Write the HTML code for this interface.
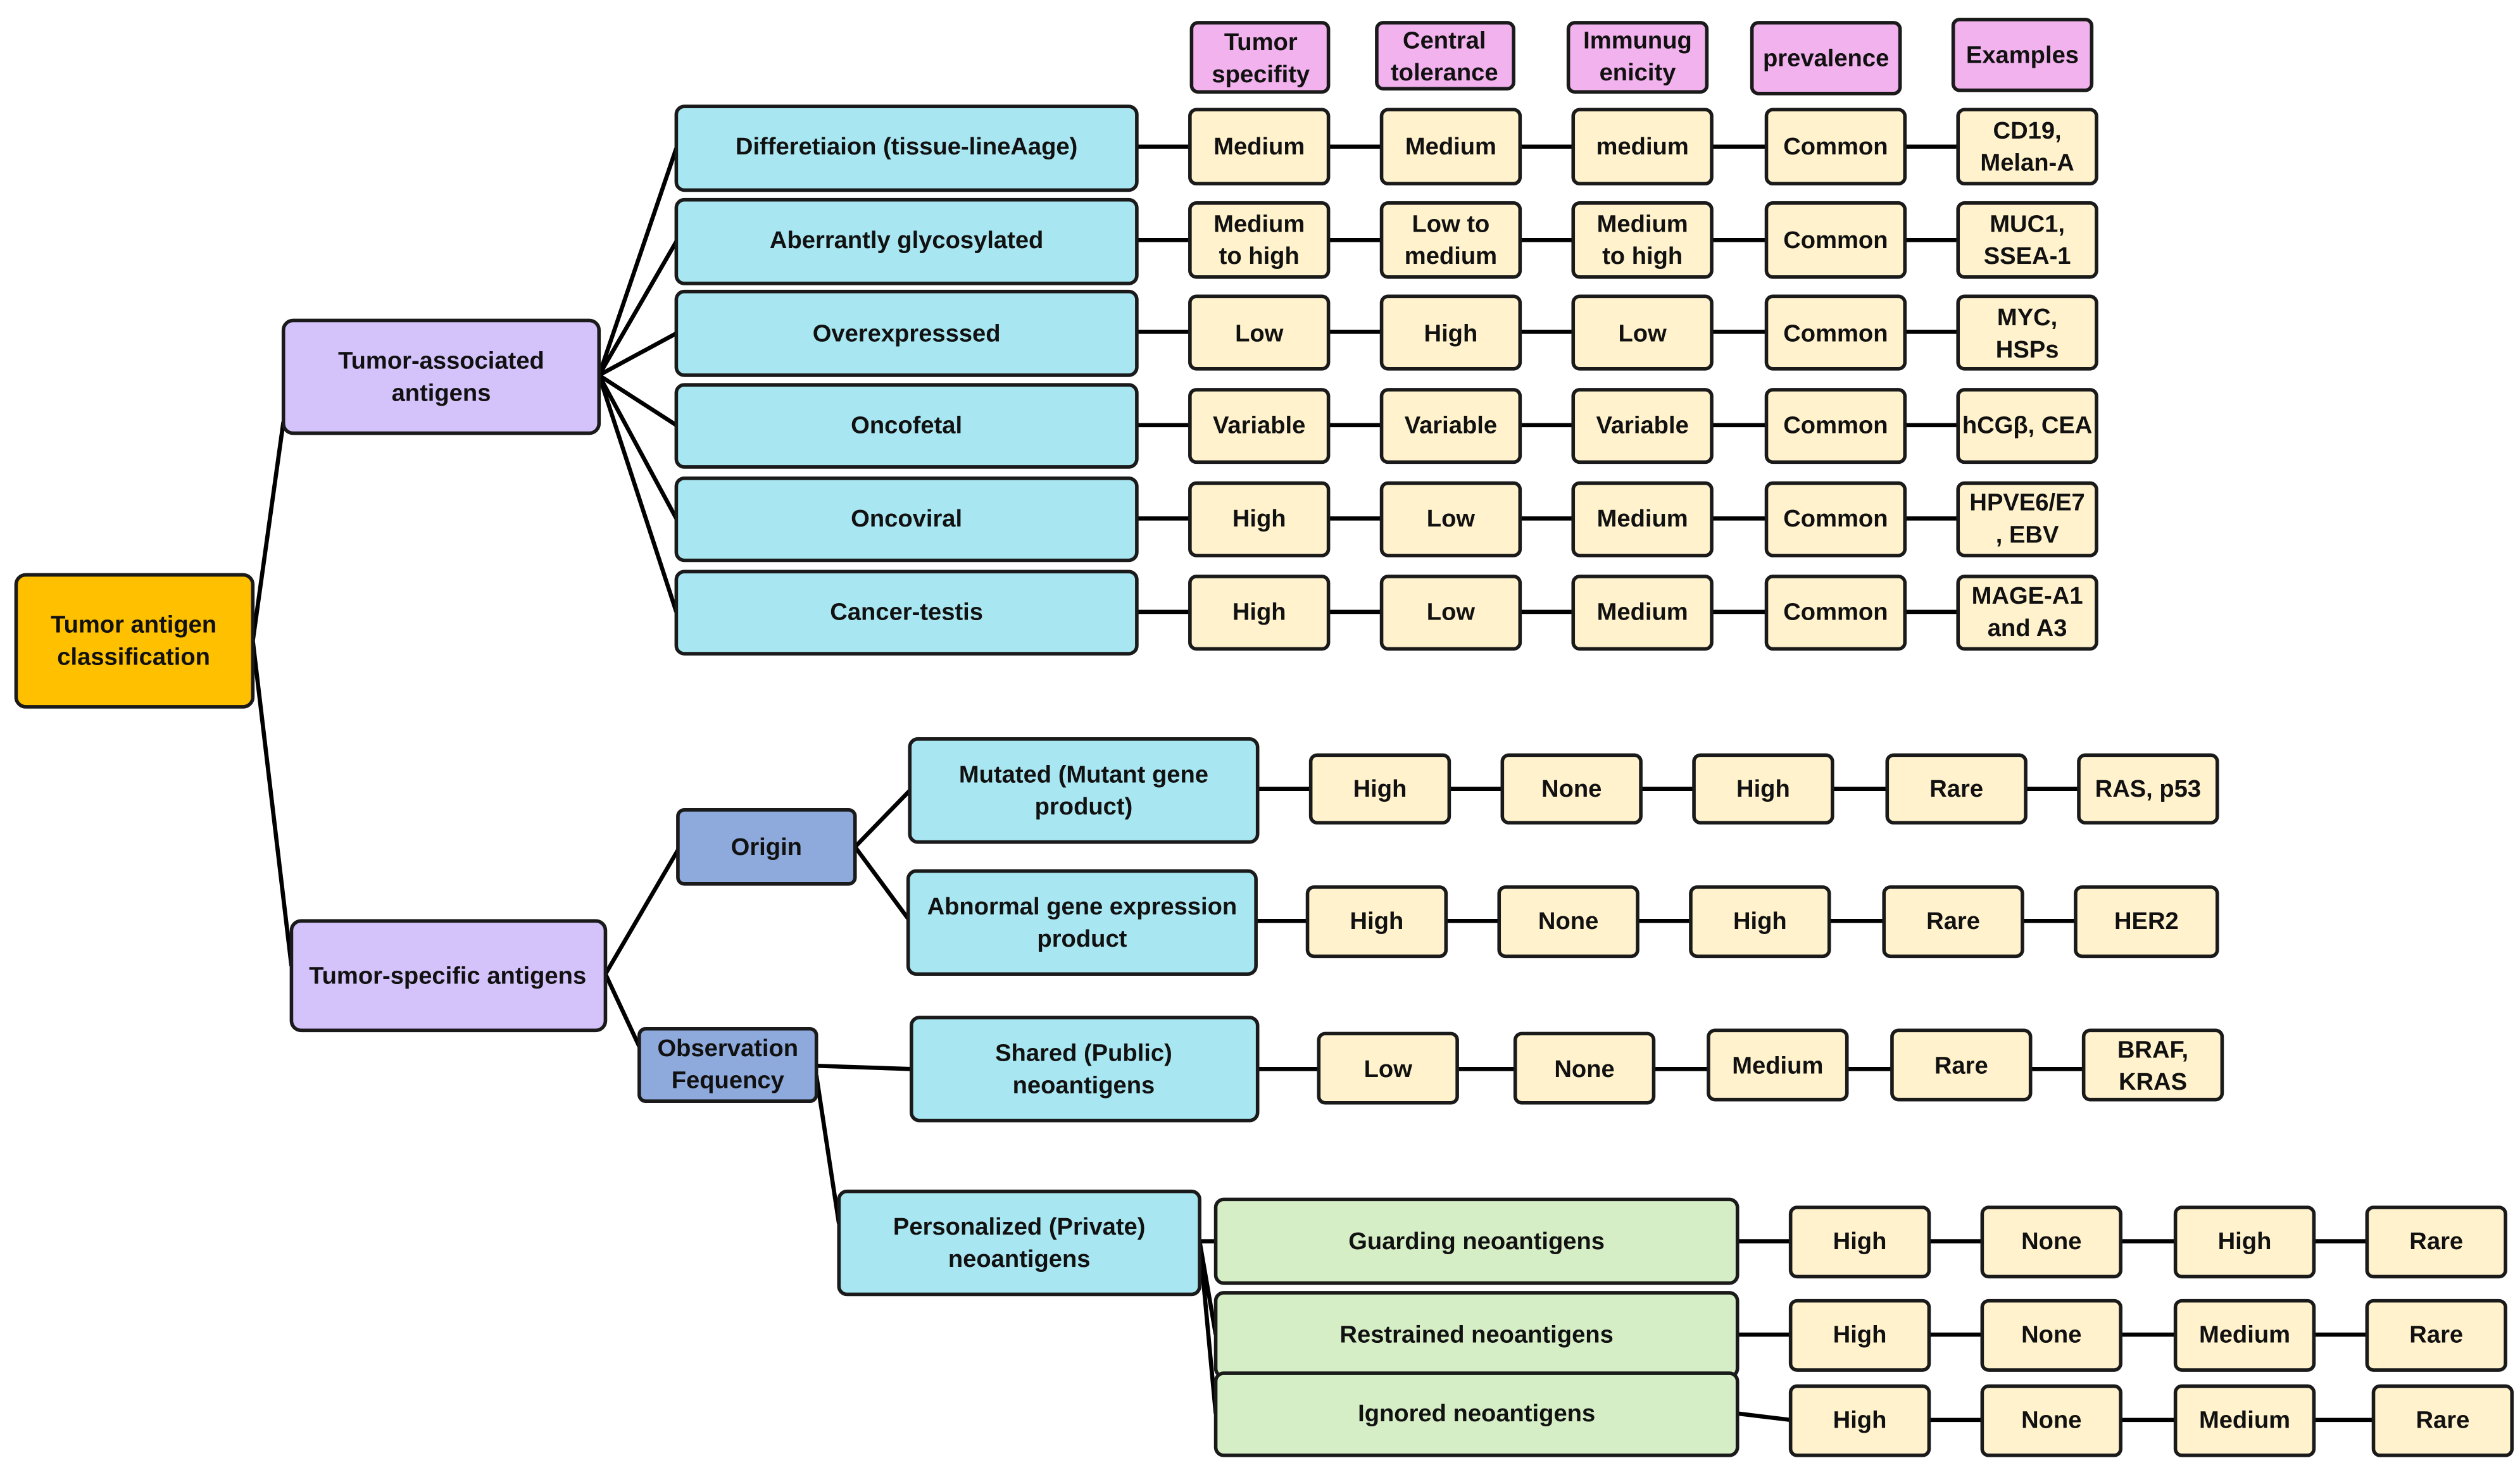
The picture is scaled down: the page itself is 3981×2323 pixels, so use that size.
<!DOCTYPE html>
<html><head><meta charset="utf-8"><style>
html,body{margin:0;padding:0;background:#fff}
svg{display:block}
text{font-family:"Liberation Sans",sans-serif;font-weight:bold;font-size:15px;fill:#111;text-anchor:middle;dominant-baseline:central}
.b{stroke:#1a1a1a;stroke-width:2.2}
.l{stroke:#000;stroke-width:2.6;fill:none}
.c{fill:#A8E6F1}.p{fill:#D4C2FA}.k{fill:#F2B2EE}.y{fill:#FFF2CC}.u{fill:#8EA9DB}.g{fill:#D6EEC6}.o{fill:#FFC000}
</style></head><body>
<svg width="3981" height="2323" viewBox="0 0 1565 913" xmlns="http://www.w3.org/2000/svg">
<!-- connectors -->
<g class="l">
<path d="M157 398 L176 262 M157 398 L181 600"/>
<path d="M372 233 L420 92 M372 233 L420 150 M372 233 L420 207 M372 233 L420 264 M372 233 L420 322 M372 233 L420 380"/>
<path d="M376 605 L421 528 M376 605 L397 650"/>
<path d="M531 526 L565 491 M531 526 L565 572"/>
<path d="M507 662 L566 664 M507 668 L521 760"/>
<path d="M745 771 L755 771 M745 771 L755 829 M745 771 L755 878"/>
<path d="M706 91 H1216 M706 149 H1216 M706 206 H1216 M706 264 H1216 M706 322 H1216 M706 380 H1216"/>
<path d="M781 490 H1291 M780 572 H1289 M781 664 H1294"/>
<path d="M1079 771 H1470 M1079 829 H1470 M1079 878 L1112 882 H1474"/>
</g>
<!-- left nodes -->
<rect class="b o" x="10" y="357" width="147" height="82" rx="6"/>
<text x="83" y="388">Tumor antigen</text><text x="83" y="408">classification</text>
<rect class="b p" x="176" y="199" width="196" height="70" rx="6"/>
<text x="274" y="224">Tumor-associated</text><text x="274" y="244">antigens</text>
<rect class="b p" x="181" y="572" width="195" height="68" rx="6"/>
<text x="278" y="606">Tumor-specific antigens</text>
<!-- headers -->
<rect class="b k" x="740" y="14" width="85" height="43" rx="4"/><text x="783" y="26">Tumor</text><text x="783" y="46">specifity</text>
<rect class="b k" x="855" y="14" width="85" height="41" rx="4"/><text x="897" y="25">Central</text><text x="897" y="45">tolerance</text>
<rect class="b k" x="974" y="14" width="86" height="43" rx="4"/><text x="1017" y="25">Immunug</text><text x="1017" y="45">enicity</text>
<rect class="b k" x="1088" y="14" width="92" height="44" rx="4"/><text x="1134" y="36">prevalence</text>
<rect class="b k" x="1213" y="12" width="86" height="44" rx="4"/><text x="1256" y="34">Examples</text>
<!-- TAA rows -->
<g>
<rect class="b c" x="420" y="66" width="286" height="52" rx="5"/><text x="563" y="91">Differetiaion (tissue-lineAage)</text>
<rect class="b c" x="420" y="124" width="286" height="52" rx="5"/><text x="563" y="149">Aberrantly glycosylated</text>
<rect class="b c" x="420" y="181" width="286" height="52" rx="5"/><text x="563" y="207">Overexpresssed</text>
<rect class="b c" x="420" y="239" width="286" height="51" rx="5"/><text x="563" y="264">Oncofetal</text>
<rect class="b c" x="420" y="297" width="286" height="51" rx="5"/><text x="563" y="322">Oncoviral</text>
<rect class="b c" x="420" y="355" width="286" height="51" rx="5"/><text x="563" y="380">Cancer-testis</text>
</g>
<g>
<rect class="b y" x="739" y="68" width="86" height="46" rx="4"/><text x="782" y="91">Medium</text>
<rect class="b y" x="858" y="68" width="86" height="46" rx="4"/><text x="901" y="91">Medium</text>
<rect class="b y" x="977" y="68" width="86" height="46" rx="4"/><text x="1020" y="91">medium</text>
<rect class="b y" x="1097" y="68" width="86" height="46" rx="4"/><text x="1140" y="91">Common</text>
<rect class="b y" x="1216" y="68" width="86" height="46" rx="4"/><text x="1259" y="81">CD19,</text><text x="1259" y="101">Melan-A</text>

<rect class="b y" x="739" y="126" width="86" height="46" rx="4"/><text x="782" y="139">Medium</text><text x="782" y="159">to high</text>
<rect class="b y" x="858" y="126" width="86" height="46" rx="4"/><text x="901" y="139">Low to</text><text x="901" y="159">medium</text>
<rect class="b y" x="977" y="126" width="86" height="46" rx="4"/><text x="1020" y="139">Medium</text><text x="1020" y="159">to high</text>
<rect class="b y" x="1097" y="126" width="86" height="46" rx="4"/><text x="1140" y="149">Common</text>
<rect class="b y" x="1216" y="126" width="86" height="46" rx="4"/><text x="1259" y="139">MUC1,</text><text x="1259" y="159">SSEA-1</text>

<rect class="b y" x="739" y="184" width="86" height="45" rx="4"/><text x="782" y="207">Low</text>
<rect class="b y" x="858" y="184" width="86" height="45" rx="4"/><text x="901" y="207">High</text>
<rect class="b y" x="977" y="184" width="86" height="45" rx="4"/><text x="1020" y="207">Low</text>
<rect class="b y" x="1097" y="184" width="86" height="45" rx="4"/><text x="1140" y="207">Common</text>
<rect class="b y" x="1216" y="184" width="86" height="45" rx="4"/><text x="1259" y="197">MYC,</text><text x="1259" y="217">HSPs</text>

<rect class="b y" x="739" y="242" width="86" height="45" rx="4"/><text x="782" y="264">Variable</text>
<rect class="b y" x="858" y="242" width="86" height="45" rx="4"/><text x="901" y="264">Variable</text>
<rect class="b y" x="977" y="242" width="86" height="45" rx="4"/><text x="1020" y="264">Variable</text>
<rect class="b y" x="1097" y="242" width="86" height="45" rx="4"/><text x="1140" y="264">Common</text>
<rect class="b y" x="1216" y="242" width="86" height="45" rx="4"/><text x="1259" y="264">hCGβ, CEA</text>

<rect class="b y" x="739" y="300" width="86" height="45" rx="4"/><text x="782" y="322">High</text>
<rect class="b y" x="858" y="300" width="86" height="45" rx="4"/><text x="901" y="322">Low</text>
<rect class="b y" x="977" y="300" width="86" height="45" rx="4"/><text x="1020" y="322">Medium</text>
<rect class="b y" x="1097" y="300" width="86" height="45" rx="4"/><text x="1140" y="322">Common</text>
<rect class="b y" x="1216" y="300" width="86" height="45" rx="4"/><text x="1259" y="312">HPVE6/E7</text><text x="1259" y="332">, EBV</text>

<rect class="b y" x="739" y="358" width="86" height="45" rx="4"/><text x="782" y="380">High</text>
<rect class="b y" x="858" y="358" width="86" height="45" rx="4"/><text x="901" y="380">Low</text>
<rect class="b y" x="977" y="358" width="86" height="45" rx="4"/><text x="1020" y="380">Medium</text>
<rect class="b y" x="1097" y="358" width="86" height="45" rx="4"/><text x="1140" y="380">Common</text>
<rect class="b y" x="1216" y="358" width="86" height="45" rx="4"/><text x="1259" y="370">MAGE-A1</text><text x="1259" y="390">and A3</text>
</g>
<!-- TSA -->
<rect class="b u" x="421" y="503" width="110" height="46" rx="4"/><text x="476" y="526">Origin</text>
<rect class="b u" x="397" y="639" width="110" height="45" rx="4"/><text x="452" y="651">Observation</text><text x="452" y="671">Fequency</text>
<rect class="b c" x="565" y="459" width="216" height="64" rx="5"/><text x="673" y="481">Mutated (Mutant gene</text><text x="673" y="501">product)</text>
<rect class="b c" x="564" y="541" width="216" height="64" rx="5"/><text x="672" y="563">Abnormal gene expression</text><text x="672" y="583">product</text>
<rect class="b c" x="566" y="632" width="215" height="64" rx="5"/><text x="673" y="654">Shared (Public)</text><text x="673" y="674">neoantigens</text>
<rect class="b c" x="521" y="740" width="224" height="64" rx="5"/><text x="633" y="762">Personalized (Private)</text><text x="633" y="782">neoantigens</text>

<g>
<rect class="b y" x="814" y="469" width="86" height="42" rx="4"/><text x="857" y="490">High</text>
<rect class="b y" x="933" y="469" width="86" height="42" rx="4"/><text x="976" y="490">None</text>
<rect class="b y" x="1052" y="469" width="86" height="42" rx="4"/><text x="1095" y="490">High</text>
<rect class="b y" x="1172" y="469" width="86" height="42" rx="4"/><text x="1215" y="490">Rare</text>
<rect class="b y" x="1291" y="469" width="86" height="42" rx="4"/><text x="1334" y="490">RAS, p53</text>

<rect class="b y" x="812" y="551" width="86" height="43" rx="4"/><text x="855" y="572">High</text>
<rect class="b y" x="931" y="551" width="86" height="43" rx="4"/><text x="974" y="572">None</text>
<rect class="b y" x="1050" y="551" width="86" height="43" rx="4"/><text x="1093" y="572">High</text>
<rect class="b y" x="1170" y="551" width="86" height="43" rx="4"/><text x="1213" y="572">Rare</text>
<rect class="b y" x="1289" y="551" width="88" height="43" rx="4"/><text x="1333" y="572">HER2</text>

<rect class="b y" x="819" y="642" width="86" height="43" rx="4"/><text x="862" y="664">Low</text>
<rect class="b y" x="941" y="642" width="86" height="43" rx="4"/><text x="984" y="664">None</text>
<rect class="b y" x="1061" y="640" width="86" height="43" rx="4"/><text x="1104" y="662">Medium</text>
<rect class="b y" x="1175" y="640" width="86" height="43" rx="4"/><text x="1218" y="662">Rare</text>
<rect class="b y" x="1294" y="640" width="86" height="43" rx="4"/><text x="1337" y="652">BRAF,</text><text x="1337" y="672">KRAS</text>
</g>
<rect class="b g" x="755" y="745" width="324" height="52" rx="5"/><text x="917" y="771">Guarding neoantigens</text>
<rect class="b g" x="755" y="803" width="324" height="52" rx="5"/><text x="917" y="829">Restrained neoantigens</text>
<rect class="b g" x="755" y="853" width="324" height="51" rx="5"/><text x="917" y="878">Ignored neoantigens</text>
<g>
<rect class="b y" x="1112" y="750" width="86" height="43" rx="4"/><text x="1155" y="771">High</text>
<rect class="b y" x="1231" y="750" width="86" height="43" rx="4"/><text x="1274" y="771">None</text>
<rect class="b y" x="1351" y="750" width="86" height="43" rx="4"/><text x="1394" y="771">High</text>
<rect class="b y" x="1470" y="750" width="86" height="43" rx="4"/><text x="1513" y="771">Rare</text>

<rect class="b y" x="1112" y="808" width="86" height="43" rx="4"/><text x="1155" y="829">High</text>
<rect class="b y" x="1231" y="808" width="86" height="43" rx="4"/><text x="1274" y="829">None</text>
<rect class="b y" x="1351" y="808" width="86" height="43" rx="4"/><text x="1394" y="829">Medium</text>
<rect class="b y" x="1470" y="808" width="86" height="43" rx="4"/><text x="1513" y="829">Rare</text>

<rect class="b y" x="1112" y="861" width="86" height="43" rx="4"/><text x="1155" y="882">High</text>
<rect class="b y" x="1231" y="861" width="86" height="43" rx="4"/><text x="1274" y="882">None</text>
<rect class="b y" x="1351" y="861" width="86" height="43" rx="4"/><text x="1394" y="882">Medium</text>
<rect class="b y" x="1474" y="861" width="86" height="43" rx="4"/><text x="1517" y="882">Rare</text>
</g>
</svg>
</body></html>
